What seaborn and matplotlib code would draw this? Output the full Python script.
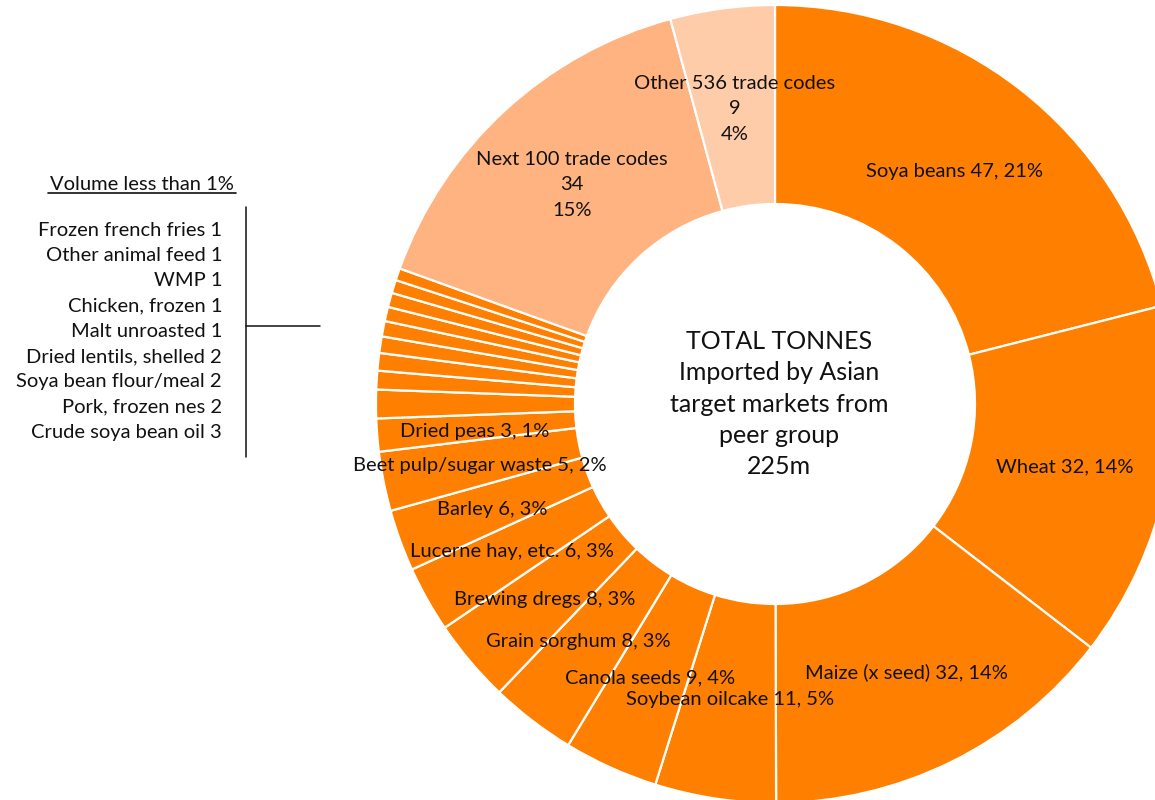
import matplotlib
matplotlib.use('Agg')
import matplotlib.pyplot as plt
import seaborn as sns

# clockwise from 12 o'clock, million tonnes
items = ['Soya beans', 'Wheat', 'Maize (x seed)', 'Soybean oilcake', 'Canola seeds',
         'Grain sorghum', 'Brewing dregs', 'Lucerne hay, etc.', 'Barley',
         'Beet pulp/sugar waste', 'Dried peas', 'Crude soya bean oil', 'Pork, frozen nes',
         'Soya bean flour/meal', 'Dried lentils, shelled', 'Malt unroasted',
         'Chicken, frozen', 'WMP', 'Other animal feed', 'Frozen french fries',
         'Next 100 trade codes', 'Other 536 trade codes']
tonnes = [47.3, 32.4, 32.6, 11.0, 8.6, 7.8, 7.6, 6.0, 5.6, 5.4, 3.0,
          2.6, 1.7, 1.6, 1.5, 1.4, 1.3, 1.3, 1.2, 1.1,
          34.3, 9.5]
groups = ['top'] * 20 + ['next100', 'other536']

# label text as printed on the chart
big_labels = ['Soya beans 47, 21%', 'Wheat 32, 14%', 'Maize (x seed) 32, 14%',
              'Soybean oilcake 11, 5%', 'Canola seeds 9, 4%', 'Grain sorghum 8, 3%',
              'Brewing dregs 8, 3%', 'Lucerne hay, etc. 6, 3%', 'Barley 6, 3%',
              'Beet pulp/sugar waste 5, 2%', 'Dried peas 3, 1%']
small_labels = ['Frozen french fries 1', 'Other animal feed 1', 'WMP 1', 'Chicken, frozen 1',
                'Malt unroasted 1', 'Dried lentils, shelled 2', 'Soya bean flour/meal 2',
                'Pork, frozen nes 2', 'Crude soya bean oil 3']
rest_labels = ['Next 100 trade codes\n34\n15%', 'Other 536 trade codes\n9\n4%']
centre_text = 'TOTAL TONNES\nImported by Asian\ntarget markets from\npeer group\n225m'

sns.set_theme(style='white')
plt.rcParams['font.family'] = ['Lato', 'DejaVu Sans']

palette = {'top': '#FF7F00', 'next100': '#FFB380', 'other536': '#FFCCAA'}
colors = [palette[g] for g in groups]

W, H = 1155, 800
fig = plt.figure(figsize=(W / 100, H / 100), dpi=100)
ax = fig.add_axes([0, 0, 1, 1])
ax.pie(tonnes, colors=colors, startangle=90, counterclock=False,
       center=(775, H - 404), radius=399,
       wedgeprops=dict(width=199, edgecolor='white', linewidth=1.6))
ax.set_xlim(0, W)
ax.set_ylim(0, H)
ax.set_aspect('equal')
ax.axis('off')

txt = '#111111'


def put(x, y, s, size=14.5, **kw):
    kw.setdefault('ha', 'center')
    ax.text(x, H - y, s, va='center', fontsize=size, color=txt, **kw)


# wedge labels (image pixel positions)
big_pos = [(955, 172), (1065, 467), (906, 672), (730, 700), (650, 678), (578, 642),
           (545, 600), (512, 552), (492, 510), (480, 465), (475, 431)]
for (x, y), s in zip(big_pos, big_labels):
    put(x, y, s)

put(572, 185, rest_labels[0], linespacing=1.58)
put(735, 109, rest_labels[1], linespacing=1.58)
put(779, 404, centre_text, size=18, linespacing=1.44)

# left hand list of the sub 1% codes
put(142, 184, 'Volume less than 1%')
ax.plot([48, 236], [H - 193, H - 193], color=txt, lw=1.2)
for i, s in enumerate(small_labels):
    put(222, 230 + i * 25.3, s, ha='right')
ax.plot([246, 246], [H - 207, H - 457], color=txt, lw=1.1)
ax.plot([246, 320], [H - 326, H - 326], color=txt, lw=1.1)

fig.savefig('out.png', dpi=100)
